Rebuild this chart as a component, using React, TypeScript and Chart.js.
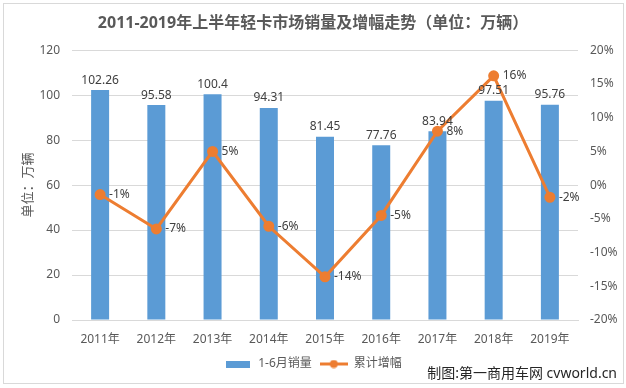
import React, { useEffect, useRef } from "react";
import { Chart, registerables } from "chart.js";

Chart.register(...registerables);

const categories = ["2011年", "2012年", "2013年", "2014年", "2015年", "2016年", "2017年", "2018年", "2019年"];
const salesValues = [102.26, 95.58, 100.4, 94.31, 81.45, 77.76, 83.94, 97.51, 95.76];
const growthValues = [-1.4, -6.5, 5.0, -6.1, -13.6, -4.5, 8.0, 16.2, -1.8];
const seriesNames = ["1-6月销量", "累计增幅"];
const titleText = "2011-2019年上半年轻卡市场销量及增幅走势（单位：万辆）";
const yAxisTitle = "单位：万辆";
const watermark = "制图:第一商用车网 cvworld.cn";

const BAR_COLOR = "#5B9BD5";
const LINE_COLOR = "#ED7D31";
const TEXT_COLOR = "#595959";
const LABEL_COLOR = "#404040";
const GRID_COLOR = "#D9D9D9";
const FONT = "'Noto Sans', 'Noto Sans CJK SC', sans-serif";

function roundPct(v: number) {
  return Math.sign(v) * Math.round(Math.abs(v));
}

function makeBarIcon() {
  const c = document.createElement("canvas");
  c.width = 24;
  c.height = 7;
  const ctx = c.getContext("2d")!;
  ctx.fillStyle = BAR_COLOR;
  ctx.fillRect(0, 0, 24, 7);
  return c;
}

function makeLineIcon() {
  const c = document.createElement("canvas");
  c.width = 28;
  c.height = 9;
  const ctx = c.getContext("2d")!;
  ctx.strokeStyle = LINE_COLOR;
  ctx.lineWidth = 3;
  ctx.beginPath();
  ctx.moveTo(0, 4.5);
  ctx.lineTo(28, 4.5);
  ctx.stroke();
  ctx.fillStyle = LINE_COLOR;
  ctx.beginPath();
  ctx.arc(14, 4.5, 4, 0, Math.PI * 2);
  ctx.fill();
  return c;
}

const decorPlugin = {
  id: "decor",
  beforeDraw(chart: any) {
    const ctx = chart.ctx;
    ctx.save();
    ctx.fillStyle = "#ffffff";
    ctx.fillRect(0, 0, chart.width, chart.height);
    ctx.strokeStyle = GRID_COLOR;
    ctx.lineWidth = 1;
    ctx.strokeRect(3.5, 3.5, 620, 380);
    ctx.restore();
  },
  afterDatasetsDraw(chart: any) {
    const ctx = chart.ctx;
    ctx.save();
    ctx.font = `12px ${FONT}`;
    ctx.fillStyle = LABEL_COLOR;
    const barMeta = chart.getDatasetMeta(0);
    ctx.textAlign = "center";
    ctx.textBaseline = "bottom";
    barMeta.data.forEach((el: any, i: number) => {
      ctx.fillText(String(salesValues[i]), el.x, el.y - 4);
    });
    const lineMeta = chart.getDatasetMeta(1);
    ctx.textAlign = "left";
    ctx.textBaseline = "middle";
    lineMeta.data.forEach((el: any, i: number) => {
      ctx.fillText(`${roundPct(growthValues[i])}%`, el.x + 9, el.y);
    });
    ctx.restore();
  },
  afterDraw(chart: any) {
    const ctx = chart.ctx;
    ctx.save();
    ctx.font = `14px ${FONT}`;
    ctx.fillStyle = "#262626";
    ctx.textAlign = "right";
    ctx.textBaseline = "middle";
    ctx.fillText(watermark, 617, 374);
    ctx.restore();
  },
};

export default function App() {
  const ref = useRef<HTMLCanvasElement>(null);

  useEffect(() => {
    document.body.style.margin = "0";
    const barIcon = makeBarIcon();
    const lineIcon = makeLineIcon();
    const chart = new Chart(ref.current!, {
      type: "bar",
      data: {
        labels: categories,
        datasets: [
          {
            type: "bar",
            label: seriesNames[0],
            data: salesValues,
            backgroundColor: BAR_COLOR,
            borderWidth: 0,
            barPercentage: 0.4,
            categoryPercentage: 0.8,
            yAxisID: "y",
            order: 1,
          },
          {
            type: "line",
            label: seriesNames[1],
            data: growthValues,
            borderColor: LINE_COLOR,
            backgroundColor: LINE_COLOR,
            borderWidth: 3,
            pointRadius: 4,
            pointBackgroundColor: LINE_COLOR,
            pointBorderColor: LINE_COLOR,
            tension: 0,
            yAxisID: "y1",
            order: 0,
          } as any,
        ],
      },
      options: {
        responsive: false,
        animation: false,
        devicePixelRatio: 1,
        layout: { padding: { left: 0, right: 0, top: 0, bottom: 8 } },
        plugins: {
          tooltip: { enabled: false },
          title: {
            display: true,
            text: titleText,
            color: TEXT_COLOR,
            font: { family: FONT, size: 16, weight: "bold" },
            padding: { top: 14, bottom: 17 },
          },
          legend: {
            display: true,
            position: "bottom",
            labels: {
              color: TEXT_COLOR,
              font: { family: FONT, size: 12 },
              usePointStyle: true,
              pointStyleWidth: 28,
              boxHeight: 9,
              padding: 8,
              generateLabels: () => [
                {
                  text: seriesNames[0],
                  pointStyle: barIcon as any,
                  fillStyle: BAR_COLOR,
                  strokeStyle: BAR_COLOR,
                  lineWidth: 0,
                  hidden: false,
                  datasetIndex: 0,
                  fontColor: TEXT_COLOR,
                },
                {
                  text: seriesNames[1],
                  pointStyle: lineIcon as any,
                  fillStyle: LINE_COLOR,
                  strokeStyle: LINE_COLOR,
                  lineWidth: 0,
                  hidden: false,
                  datasetIndex: 1,
                  fontColor: TEXT_COLOR,
                },
              ],
            },
          },
        },
        scales: {
          x: {
            grid: { display: false, drawTicks: false },
            border: { display: true, color: GRID_COLOR },
            ticks: { color: TEXT_COLOR, font: { family: FONT, size: 12 }, padding: 12, maxRotation: 0 },
            afterFit: (s: any) => {
              s.height = 30;
            },
          },
          y: {
            position: "left",
            min: 0,
            max: 120,
            ticks: { stepSize: 20, color: TEXT_COLOR, font: { family: FONT, size: 12 }, padding: 12 },
            grid: { color: GRID_COLOR, drawTicks: false },
            border: { display: false },
            title: {
              display: true,
              text: yAxisTitle,
              color: TEXT_COLOR,
              font: { family: FONT, size: 13 },
              padding: { top: 20, bottom: 0 },
            },
            afterFit: (s: any) => {
              s.width = 72;
            },
          },
          y1: {
            position: "right",
            min: -20,
            max: 20,
            ticks: {
              stepSize: 5,
              color: TEXT_COLOR,
              font: { family: FONT, size: 12 },
              padding: 12,
              callback: (v: any) => `${v}%`,
            },
            grid: { display: false, drawTicks: false },
            border: { display: false },
            afterFit: (s: any) => {
              s.width = 48;
            },
          },
        },
      },
      plugins: [decorPlugin],
    });
    return () => chart.destroy();
  }, []);

  return (
    <div style={{ position: "fixed", left: 0, top: 0, width: 626, height: 388 }}>
      <canvas ref={ref} width={626} height={388} style={{ width: 626, height: 388, display: "block" }} />
    </div>
  );
}
